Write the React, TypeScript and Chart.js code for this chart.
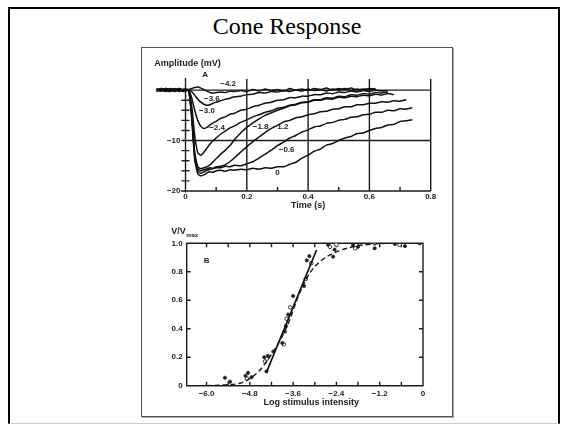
import React, { useEffect, useRef } from "react";
import { Chart, registerables } from "chart.js";

Chart.register(...registerables);

// ---------- Panel A: cone photoresponses ----------
const TIME_S = [
  -0.095, -0.08, -0.065, -0.05, -0.035, -0.02, -0.005, 0.01, 0.02, 0.03,
  0.04, 0.05, 0.06, 0.07, 0.08, 0.09, 0.1, 0.115, 0.13, 0.145,
  0.16, 0.18, 0.2, 0.22, 0.24, 0.26, 0.28, 0.3, 0.32, 0.34,
  0.36, 0.38, 0.4, 0.42, 0.44, 0.46, 0.48, 0.5, 0.52, 0.54,
  0.56, 0.58, 0.6, 0.62, 0.64, 0.66, 0.68, 0.7, 0.72, 0.74,
];

const TRACE_M42 = [
  0.2, -0.2, 0.3, -0.1, 0.2, -0.3, 0.1, 0.1, 0.3, 0.5,
  0.6, 0.4, 0.1, -0.2, -0.5, -0.6, -0.5, -0.4, -0.5, -0.2,
  -0.3, -0.1, -0.3, 0.1, -0.2, 0.2, -0.1, 0.1, -0.2, 0.3,
  0, 0.2, -0.1, 0.3, 0.1, 0.4, 0, 0.3, 0.1, 0.4,
  0, 0.2, 0.1, 0.3, null, null, null, null, null, null,
];
const TRACE_M36 = [
  -0.2, 0.3, 0, -0.3, 0.2, 0.1, -0.2, 0, -0.3, -1.0,
  -1.8, -2.4, -2.8, -3.0, -2.9, -2.6, -2.4, -2.1, -1.8, -1.6,
  -1.3, -1.2, -0.9, -0.8, -0.5, -0.6, -0.3, -0.4, -0.1, -0.3,
  0, -0.2, 0.2, -0.1, 0.1, -0.2, 0.2, 0, 0.3, -0.1,
  0.2, 0, 0.3, 0.1, null, null, null, null, null, null,
];
const TRACE_M30 = [
  0.1, -0.2, 0.3, 0.1, -0.3, 0.2, 0, -0.1, -1.5, -4.0,
  -6.0, -7.2, -7.6, -7.4, -6.9, -6.5, -6.2, -5.6, -5.3, -4.8,
  -4.6, -4.0, -3.8, -3.3, -3.0, -2.6, -2.4, -2.0, -1.9, -1.5,
  -1.5, -1.2, -1.2, -0.9, -0.9, -0.6, -0.7, -0.4, -0.5, -0.2,
  -0.4, -0.1, -0.3, 0, -0.2, -0.1, null, null, null, null,
];
const TRACE_M24 = [
  -0.3, 0.1, -0.1, 0.3, 0, -0.2, 0.2, 0, -3.0, -9.0,
  -12.4, -12.9, -12.3, -11.5, -10.7, -10.0, -9.5, -8.7, -8.1, -7.5,
  -7.1, -6.4, -5.9, -5.3, -4.9, -4.4, -4.1, -3.6, -3.4, -3.0,
  -2.8, -2.4, -2.3, -1.9, -1.9, -1.5, -1.6, -1.2, -1.3, -0.9,
  -1.0, -0.7, -0.8, -0.5, -0.6, -0.4, null, null, null, null,
];
const TRACE_M18 = [
  0.2, 0, -0.3, 0.1, 0.2, -0.1, -0.3, 0, -4.5, -12.5,
  -15.2, -15.6, -15.4, -15.2, -14.8, -14.2, -13.6, -12.7, -11.9, -11.0,
  -9.8, -8.5, -7.4, -6.5, -5.7, -5.0, -4.5, -4.0, -3.6, -3.1,
  -2.9, -2.5, -2.4, -2.0, -2.0, -1.7, -1.8, -1.4, -1.5, -1.2,
  -1.3, -1.0, -1.1, -0.8, -1.0, -0.7, -0.9, null, null, null,
];
const TRACE_M12 = [
  -0.1, 0.3, 0.1, -0.2, 0.3, 0, 0.1, 0, -4.5, -12.8,
  -15.6, -16.0, -15.8, -15.6, -15.4, -15.5, -15.2, -15.1, -14.8, -14.2,
  -13.4, -12.3, -11.2, -10.2, -9.3, -8.4, -7.6, -7.0, -6.3, -6.0,
  -5.5, -5.3, -4.9, -4.7, -4.3, -4.2, -3.8, -3.7, -3.3, -3.3,
  -2.9, -2.9, -2.6, -2.6, -2.3, -2.4, -2.1, -2.2, -1.9, null,
];
const TRACE_M06 = [
  0.3, -0.1, 0.2, 0, -0.2, 0.3, -0.1, 0, -5.0, -13.2,
  -16.0, -16.5, -16.2, -15.9, -15.7, -15.6, -15.4, -15.4, -15.1, -15.2,
  -14.9, -15.0, -14.6, -14.2, -13.5, -12.7, -11.9, -11.0, -10.3, -9.5,
  -9.0, -8.3, -7.9, -7.3, -7.1, -6.6, -6.4, -6.0, -5.8, -5.4,
  -5.3, -4.9, -4.8, -4.4, -4.4, -4.0, -4.1, -3.7, -3.8, -3.5,
];
const TRACE_00 = [
  0, 0.2, -0.2, 0.1, -0.1, 0.3, -0.2, 0, -5.5, -13.8,
  -16.6, -17.0, -16.8, -16.4, -16.2, -16.3, -16.0, -15.9, -16.1, -15.8,
  -15.9, -15.7, -15.8, -15.5, -15.7, -15.4, -15.5, -15.2, -15.2, -14.7,
  -14.3, -13.5, -12.9, -12.1, -11.7, -10.9, -10.6, -10.0, -9.5, -9.2,
  -8.6, -8.5, -8.0, -7.6, -7.4, -6.9, -6.8, -6.2, -6.1, -5.9,
];

const TRACE_LABELS = ["\u22124.2", "\u22123.6", "\u22123.0", "\u22122.4", "\u22121.8", "\u22121.2", "\u22120.6", "0"];
const TRACE_LABEL_T = [0.139, 0.086, 0.07, 0.103, 0.245, 0.31, 0.33, 0.3];
const TRACE_LABEL_MV = [1.2, -1.8, -4.2, -7.5, -7.3, -7.3, -11.8, -16.3];

const TIME_TICKS = [0, 0.2, 0.4, 0.6, 0.8];
const TIME_TICK_LABELS = ["0", "0.2", "0.4", "0.6", "0.8"];
const TIME_MINOR = [0.1, 0.3, 0.5, 0.7];
const AMP_GRID = [0, -10];
const AMP_MINOR = [-2, -4, -6, -8, -10, -12, -14, -16, -18, -20];
const AMP_LABEL_VALUES = [-10, -20];
const AMP_LABELS = ["\u221210", "\u221220"];

// ---------- Panel B: intensity-response ----------
const FILLED_LOG = [-5.49, -5.35, -4.92, -4.85, -4.75, -4.4, -4.34, -4.3, -4.15, -3.9, -3.83, -3.8, -3.74, -3.6, -3.3, -3.22, -3.15, -2.63, -2.45, -2.49, -1.94, -1.8, -1.34, -0.78, -0.5, -0.09];
const FILLED_V = [0.056, 0.028, 0.07, 0.09, 0.06, 0.2, 0.1, 0.21, 0.24, 0.3, 0.38, 0.42, 0.5, 0.63, 0.7, 0.88, 0.91, 0.99, 0.955, 0.906, 0.99, 0.975, 0.965, 0.995, 0.98, 1.0];
const OPEN_LOG = [-4.88, -4.38, -4.33, -3.86, -3.78, -3.68, -3.25, -3.1, -2.58, -2.4, -1.88, -1.34, -0.65];
const OPEN_V = [0.05, 0.17, 0.19, 0.29, 0.47, 0.55, 0.75, 0.86, 0.975, 0.99, 0.965, 1.0, 0.99];
const DASH_LOG = [-6.0, -5.5, -5.08, -4.8, -4.52, -4.15, -3.78, -3.42, -3.14, -2.86, -2.49, -1.94, -1.38, -0.7, 0];
const DASH_V = [0, 0.006, 0.017, 0.05, 0.11, 0.24, 0.41, 0.65, 0.79, 0.87, 0.93, 0.976, 0.995, 1.0, 1.0];
const FIT_LOG = [-4.34, -2.95];
const FIT_V = [0.094, 0.953];

const LOG_TICKS = [-6.0, -4.8, -3.6, -2.4, -1.2, 0];
const LOG_TICK_LABELS = ["\u22126.0", "\u22124.8", "\u22123.6", "\u22122.4", "\u22121.2", "0"];
const LOG_MINOR = [-6.0, -5.4, -4.8, -4.2, -3.6, -3.0, -2.4, -1.8, -1.2, -0.6];
const RATIO_TICKS = [0, 0.2, 0.4, 0.6, 0.8, 1.0];
const RATIO_TICK_LABELS = ["0", "0.2", "0.4", "0.6", "0.8", "1.0"];

const INK = "#1c1c1c";
const TXT = "#222";
const FONT = '"Liberation Sans", Arial, sans-serif';

const zip = (xs: number[], ys: (number | null)[]) =>
  xs.map((x, i) => ({ x, y: ys[i] })).filter((p) => p.y !== null) as { x: number; y: number }[];

const topPlugin = {
  id: "panelA",
  beforeDatasetsDraw(chart: any) {
    const { ctx, scales } = chart;
    const X = (v: number) => scales.x.getPixelForValue(v);
    const Y = (v: number) => scales.y.getPixelForValue(v);
    ctx.save();
    ctx.strokeStyle = INK;
    ctx.lineWidth = 1.4;
    ctx.beginPath();
    ctx.moveTo(X(0), Y(2.4));
    ctx.lineTo(X(0), Y(-20.3));
    ctx.moveTo(X(-0.015), Y(-20));
    ctx.lineTo(X(0.8), Y(-20));
    for (const t of TIME_TICKS.slice(1)) {
      ctx.moveTo(X(t), Y(2.2));
      ctx.lineTo(X(t), Y(-20));
    }
    for (const m of AMP_GRID) {
      ctx.moveTo(X(0), Y(m));
      ctx.lineTo(X(0.8), Y(m));
    }
    for (const m of AMP_MINOR) {
      ctx.moveTo(X(0) - 4, Y(m));
      ctx.lineTo(X(0) + 4, Y(m));
    }
    for (const t of TIME_MINOR) {
      ctx.moveTo(X(t), Y(-20));
      ctx.lineTo(X(t), Y(-20) - 4);
    }
    ctx.stroke();
    ctx.restore();
  },
  afterDatasetsDraw(chart: any) {
    const { ctx, scales } = chart;
    const X = (v: number) => scales.x.getPixelForValue(v);
    const Y = (v: number) => scales.y.getPixelForValue(v);
    ctx.save();
    ctx.fillStyle = TXT;
    ctx.font = `bold 8px ${FONT}`;
    ctx.textBaseline = "middle";
    ctx.textAlign = "center";
    TIME_TICKS.forEach((t, i) => ctx.fillText(TIME_TICK_LABELS[i], X(t), Y(-20) + 6));
    ctx.textAlign = "right";
    AMP_LABEL_VALUES.forEach((m, i) => ctx.fillText(AMP_LABELS[i], X(0) - 5, Y(m)));
    ctx.textAlign = "center";
    TRACE_LABELS.forEach((s, i) => ctx.fillText(s, X(TRACE_LABEL_T[i]), Y(TRACE_LABEL_MV[i])));
    ctx.fillText("A", X(0.064), Y(3));
    ctx.font = `bold 9px ${FONT}`;
    ctx.fillText("Time (s)", (X(0) + X(0.8)) / 2, Y(-20) + 15);
    ctx.textAlign = "left";
    ctx.fillText("Amplitude (mV)", X(-0.102), Y(5.2));
    ctx.restore();
  },
};

const botPlugin = {
  id: "panelB",
  beforeDatasetsDraw(chart: any) {
    const { ctx, scales } = chart;
    const X = (v: number) => scales.x.getPixelForValue(v);
    const Y = (v: number) => scales.y.getPixelForValue(v);
    const L = X(-6.55), R = X(0), T = Y(1), B = Y(0);
    ctx.save();
    ctx.strokeStyle = INK;
    ctx.lineWidth = 1.4;
    ctx.beginPath();
    ctx.rect(L, T, R - L, B - T);
    for (const r of RATIO_TICKS.slice(1, -1)) {
      ctx.moveTo(L, Y(r));
      ctx.lineTo(L + 4, Y(r));
      ctx.moveTo(R, Y(r));
      ctx.lineTo(R - 4, Y(r));
    }
    for (const v of LOG_MINOR) {
      ctx.moveTo(X(v), B);
      ctx.lineTo(X(v), B - 4);
      ctx.moveTo(X(v), T);
      ctx.lineTo(X(v), T + 4);
    }
    ctx.stroke();
    ctx.restore();
  },
  afterDatasetsDraw(chart: any) {
    const { ctx, scales } = chart;
    const X = (v: number) => scales.x.getPixelForValue(v);
    const Y = (v: number) => scales.y.getPixelForValue(v);
    ctx.save();
    ctx.fillStyle = TXT;
    ctx.font = `bold 8px ${FONT}`;
    ctx.textBaseline = "middle";
    ctx.textAlign = "right";
    RATIO_TICKS.forEach((r, i) => ctx.fillText(RATIO_TICK_LABELS[i], X(-6.55) - 4, Y(r)));
    ctx.textAlign = "center";
    LOG_TICKS.forEach((v, i) => ctx.fillText(LOG_TICK_LABELS[i], X(v), Y(0) + 8));
    ctx.fillText("B", X(-6.0), Y(0.88));
    ctx.font = `bold 9px ${FONT}`;
    ctx.fillText("Log stimulus intensity", X(-3.1), Y(0) + 16.5);
    ctx.textAlign = "left";
    ctx.fillText("V/V", X(-6.98), Y(1.08));
    const w = ctx.measureText("V/V").width;
    ctx.font = `bold 6px ${FONT}`;
    ctx.fillText("max", X(-6.98) + w + 0.5, Y(1.055));
    ctx.restore();
  },
};

export default function App() {
  const topRef = useRef<HTMLCanvasElement>(null);
  const botRef = useRef<HTMLCanvasElement>(null);

  useEffect(() => {
    const traces = [TRACE_M42, TRACE_M36, TRACE_M30, TRACE_M24, TRACE_M18, TRACE_M12, TRACE_M06, TRACE_00];
    const top = new Chart(topRef.current as HTMLCanvasElement, {
      type: "line",
      data: {
        datasets: traces.map((v, i) => ({
          label: TRACE_LABELS[i],
          data: zip(TIME_S, v),
          borderColor: "#111",
          borderWidth: 1.5,
          pointRadius: 0,
          tension: 0.15,
          fill: false,
        })),
      },
      options: {
        animation: false,
        responsive: false,
        events: [],
        layout: { padding: { left: 14.4, right: 22.3, top: 32, bottom: 29 } },
        scales: {
          x: { type: "linear", min: -0.095, max: 0.8, display: false },
          y: { type: "linear", min: -20, max: 2, display: false },
        },
        plugins: { legend: { display: false }, tooltip: { enabled: false } },
      },
      plugins: [topPlugin],
    } as any);

    const bot = new Chart(botRef.current as HTMLCanvasElement, {
      type: "scatter",
      data: {
        datasets: [
          {
            type: "line",
            label: "fit",
            data: zip(DASH_LOG, DASH_V),
            borderColor: "#1a1a1a",
            borderWidth: 1.4,
            borderDash: [5, 3],
            pointRadius: 0,
            cubicInterpolationMode: "monotone",
            fill: false,
          },
          {
            type: "line",
            label: "slope",
            data: zip(FIT_LOG, FIT_V),
            borderColor: "#111",
            borderWidth: 1.7,
            pointRadius: 0,
            fill: false,
          },
          {
            label: "filled",
            data: zip(FILLED_LOG, FILLED_V),
            pointRadius: 1.6,
            pointBackgroundColor: "#222",
            pointBorderColor: "#222",
            pointBorderWidth: 0.8,
          },
          {
            label: "open",
            data: zip(OPEN_LOG, OPEN_V),
            pointRadius: 1.8,
            pointBackgroundColor: "#fff",
            pointBorderColor: "#222",
            pointBorderWidth: 0.9,
          },
        ],
      },
      options: {
        animation: false,
        responsive: false,
        events: [],
        layout: { padding: { left: 44.7, right: 30, top: 23.3, bottom: 31.3 } },
        scales: {
          x: { type: "linear", min: -6.55, max: 0, display: false },
          y: { type: "linear", min: 0, max: 1, display: false },
        },
        plugins: { legend: { display: false }, tooltip: { enabled: false } },
      },
      plugins: [botPlugin],
    } as any);

    return () => {
      top.destroy();
      bot.destroy();
    };
  }, []);

  return (
    <div
      style={{
        position: "fixed",
        left: 0,
        top: 0,
        width: 568,
        height: 426,
        background: "#fff",
        overflow: "hidden",
      }}
    >
      <div
        style={{
          position: "absolute",
          left: 8,
          top: 7,
          width: 552,
          height: 417,
          boxSizing: "border-box",
          borderLeft: "2px solid #000",
          borderTop: "2px solid #000",
          borderRight: "2px solid #000",
          borderBottom: "1px solid #ccc",
        }}
      />
      <div
        style={{
          position: "absolute",
          left: 0,
          top: 14,
          width: 574,
          textAlign: "center",
          fontFamily: '"Liberation Serif", "Times New Roman", serif',
          fontSize: 24,
          lineHeight: "24px",
          color: "#000",
        }}
      >
        Cone Response
      </div>
      <div
        style={{
          position: "absolute",
          left: 141,
          top: 47,
          width: 312,
          height: 370,
          boxSizing: "border-box",
          border: "1.5px solid #555",
          boxShadow: "1px 1px 0 #aaa",
        }}
      />
      <canvas
        ref={topRef}
        width={311}
        height={172}
        style={{ position: "absolute", left: 142, top: 48, width: 311, height: 172 }}
      />
      <canvas
        ref={botRef}
        width={311}
        height={197}
        style={{ position: "absolute", left: 142, top: 220, width: 311, height: 197 }}
      />
    </div>
  );
}
